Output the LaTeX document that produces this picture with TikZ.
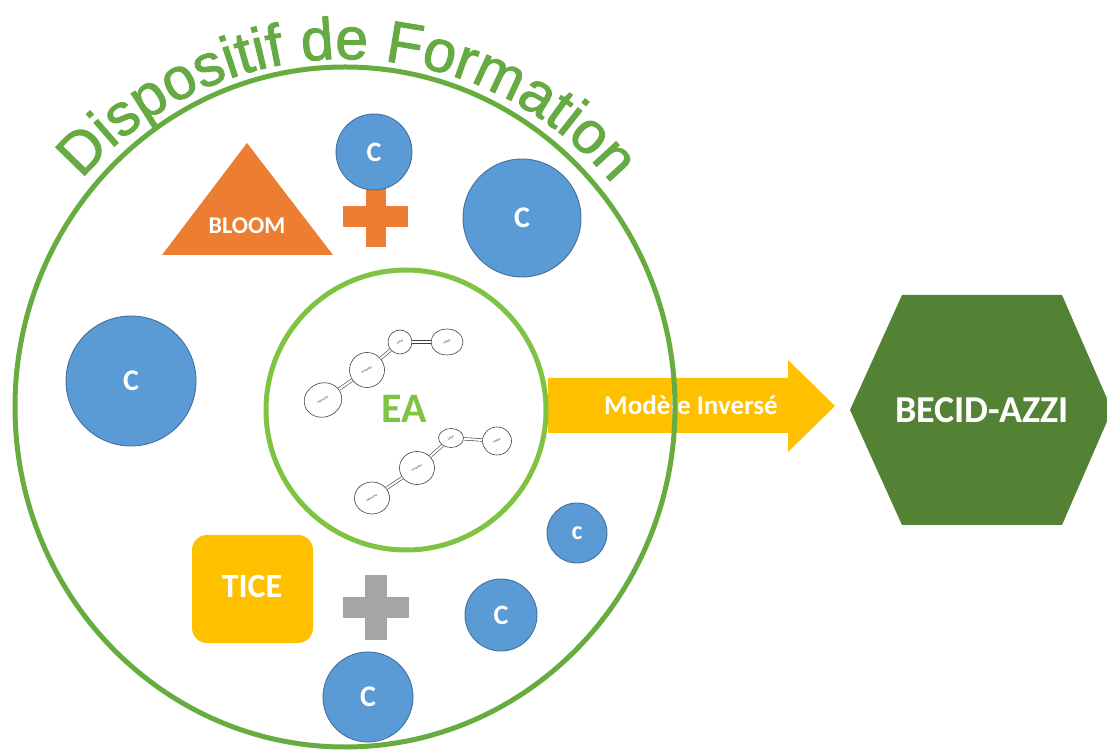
\documentclass[tikz,border=0pt]{standalone}
\usepackage{fontspec}
\setmainfont{Carlito}
\newfontfamily\arialf[FakeBold=1.6]{Liberation Sans}
\usetikzlibrary{shapes.geometric,decorations.text}
\definecolor{outergreen}{HTML}{66AC3E}
\definecolor{innergreen}{HTML}{7FC342}
\definecolor{titlegreen}{HTML}{66AA44}
\definecolor{cblue}{HTML}{5B9BD5}
\definecolor{cblueD}{HTML}{41719C}
\definecolor{corange}{HTML}{ED7D31}
\definecolor{cyellow}{HTML}{FFC000}
\definecolor{cgray}{HTML}{A5A5A5}
\definecolor{hexgreen}{HTML}{548235}
\begin{document}
\begin{tikzpicture}[x=1pt,y=1pt,
  cnode/.style={circle, fill=cblue, draw=cblueD, line width=0.9pt, text=white, inner sep=0pt, font=\bfseries},
  lbl/.style={text=white, font=\bfseries, inner sep=0pt},
  mini/.style={ellipse, draw=black!75, line width=0.6pt, fill=white, inner sep=0pt, font=\fontsize{2.6}{3}\selectfont},
  link/.style={double=white, draw=black!75, line width=0.6pt, double distance=2pt},
  ring/.style={line width=5pt}
]
\useasboundingbox (0,0) rectangle (1107,752);

% arrow
\fill[cyellow] (548,374) -- (788,374) -- (788,392) -- (835,346) -- (788,300) -- (788,319) -- (548,319) -- cycle;
\node[lbl, font=\bfseries\fontsize{27}{30}\selectfont] (mi) at (691,347) {Modèle Inversé};

% hexagon
\fill[hexgreen] (902,457) -- (1062,457) -- (1112,342) -- (1062,227) -- (902,227) -- (850,342) -- cycle;
\node[lbl, font=\bfseries\fontsize{38}{42}\selectfont] (becid) at (982,342) {BECID-AZZI};

% outer ring
\draw[ring, outergreen] (345,345) ellipse [x radius=330pt, y radius=340pt];
\coordinate (ctr) at (345,345);

% title along arc
\path[decorate, decoration={text along path, text align=center, text color=titlegreen,
  text={|\arialf\fontsize{59}{64}\selectfont|Dispositif de Formation}}]
  (ctr) ++(140:348pt) arc[start angle=140, end angle=39, radius=348pt];

% inner ring
\draw[ring, innergreen] (406,342) circle[radius=140pt];
\node[text=innergreen, font=\bfseries\fontsize{42}{46}\selectfont, inner sep=0pt] (ea) at (404,343) {EA};

% chain 1
\node[mini, minimum width=38pt, minimum height=34pt, rotate=20] (a1) at (323,352) {\rotatebox{10}{Exploration}};
\node[mini, minimum width=35pt, minimum height=35pt] (b1) at (367,382) {\rotatebox{25}{Perception}};
\node[mini, minimum width=24pt, minimum height=24pt] (c1) at (400,410) {\rotatebox{25}{Utilisé}};
\node[mini, minimum width=32pt, minimum height=26pt] (d1) at (447,410) {\rotatebox{25}{Intégré}};
\draw[link] (a1) -- (b1);
\draw[link] (b1) -- (c1);
\draw[link] (c1) -- (d1);

% chain 2
\node[mini, minimum width=35pt, minimum height=32pt] (a2) at (372,254) {\rotatebox{30}{Exploration}};
\node[mini, minimum width=35pt, minimum height=33pt] (b2) at (417,284) {\rotatebox{25}{Perception}};
\node[mini, minimum width=25pt, minimum height=19pt] (c2) at (451,314) {\rotatebox{25}{Utilisé}};
\node[mini, minimum width=29pt, minimum height=28pt] (d2) at (497,311) {\rotatebox{25}{Intégré}};
\draw[link] (a2) -- (b2);
\draw[link] (b2) -- (c2);
\draw[link] (c2) -- (d2);

% BLOOM triangle
\fill[corange] (247,609) -- (333,497) -- (162,497) -- cycle;
\node[lbl, font=\bfseries\fontsize{24}{26}\selectfont] (bloom) at (247,526) {BLOOM};

% orange plus
\fill[corange] (366,505) rectangle (386,565);
\fill[corange] (343,525) rectangle (408,546);

% TICE
\node[fill=cyellow, rounded corners=15pt, minimum width=121pt, minimum height=108pt, inner sep=0pt] (tice) at (252.5,163) {};
\node[lbl, font=\bfseries\fontsize{34}{38}\selectfont] (ticet) at (252,166) {TICE};

% gray plus
\fill[cgray] (365,112) rectangle (387,177);
\fill[cgray] (343,134) rectangle (409,155);

% C circles
\node[cnode, minimum size=76pt, font=\bfseries\fontsize{28}{30}\selectfont] (c_top) at (374,600) {C};
\node[cnode, minimum size=118pt, font=\bfseries\fontsize{30}{32}\selectfont] (c_tr) at (522,534) {C};
\node[cnode, minimum size=130pt, font=\bfseries\fontsize{30}{32}\selectfont] (c_l) at (131,371) {C};
\node[cnode, minimum size=60pt, font=\bfseries\fontsize{26}{28}\selectfont] (c_s) at (577,219) {c};
\node[cnode, minimum size=72pt, font=\bfseries\fontsize{28}{30}\selectfont] (c_m) at (501,137) {C};
\node[cnode, minimum size=90pt, font=\bfseries\fontsize{30}{32}\selectfont] (c_b) at (368,55) {C};
\end{tikzpicture}
\end{document}
